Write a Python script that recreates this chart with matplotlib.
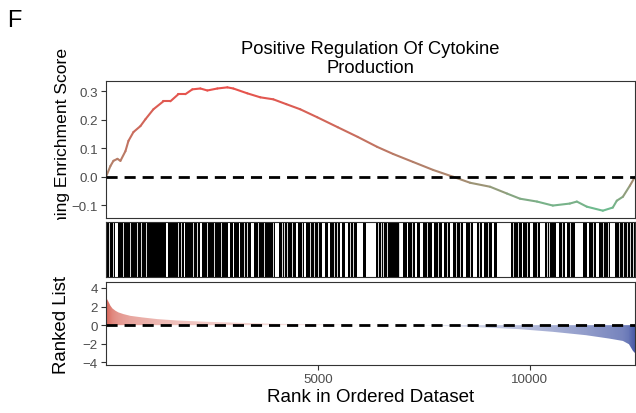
import numpy as np
import matplotlib
matplotlib.use("Agg")
import matplotlib.pyplot as plt
from matplotlib.collections import LineCollection
from matplotlib.colors import LinearSegmentedColormap, TwoSlopeNorm
from matplotlib.transforms import Bbox, TransformedBbox

plt.rcParams['font.family'] = ['Liberation Sans', 'DejaVu Sans']

title = "Positive Regulation Of Cytokine\nProduction"
n_genes = 12490

# running enrichment score
es_rank = [1, 106, 177, 271, 342, 460, 531, 649, 814, 932, 1120, 1356, 1521,
           1710, 1875, 2040, 2229, 2394, 2630, 2866, 3007, 3337, 3644, 3950,
           4257, 4587, 4988, 5472, 5944, 6403, 6781, 7252, 7724, 8196, 8597,
           9069, 9470, 9776, 10177, 10550, 10951, 11117, 11353, 11730, 11966,
           12060, 12205, 12370, 12490]
es_value = [0.0, 0.038, 0.056, 0.063, 0.056, 0.09, 0.126, 0.157, 0.178, 0.202,
            0.237, 0.265, 0.265, 0.29, 0.29, 0.307, 0.31, 0.303, 0.31, 0.314,
            0.31, 0.293, 0.279, 0.272, 0.255, 0.237, 0.209, 0.174, 0.14, 0.105,
            0.08, 0.052, 0.024, 0.0, -0.021, -0.035, -0.059, -0.077, -0.087,
            -0.101, -0.094, -0.087, -0.105, -0.119, -0.108, -0.084, -0.07,
            -0.031, 0.0]

# ranked list metric
rank_pos = [1, 59, 106, 153, 224, 295, 413, 578, 861, 1215, 1686, 2394, 3172,
            4116, 5766, 7181, 7795, 8573, 9752, 10554, 11332, 11875, 12205,
            12347, 12441, 12490]
rank_val = [3.0, 2.52, 2.09, 1.8, 1.55, 1.37, 1.19, 1.0, 0.83, 0.65, 0.5, 0.36,
            0.25, 0.14, 0.05, 0.0, -0.07, -0.18, -0.43, -0.72, -1.08, -1.44,
            -1.7, -2.05, -2.77, -3.0]

# stretches of the barcode without hits (rank start, rank end)
gap_start = [224, 1427, 1835, 2229, 2873, 3000, 3132, 3425, 3998, 4493, 4682,
             5099, 5231, 5531, 5649, 5925, 6144, 6946, 7104, 7300, 7418, 7693,
             7929, 8125, 8439, 8675, 8873, 9109, 9226, 9816, 10012, 10248,
             10625, 10837, 11073, 11349, 11568, 11899]
gap_end = [278, 1474, 1868, 2276, 2920, 3031, 3172, 3486, 4075, 4533, 4729,
           5160, 5295, 5571, 5703, 6080, 6380, 7009, 7142, 7354, 7481, 7748,
           7984, 8189, 8502, 8755, 8927, 9163, 9557, 9854, 10075, 10366,
           10703, 10892, 11269, 11410, 11646, 12017]
# single missing ranks between hits
gap_single = [66, 170, 406, 561, 736, 830, 955, 1693, 1781, 2057, 2151, 2387,
              2542, 2717, 3250, 3330, 3580, 3722, 3943, 4156, 4210, 4274, 4392,
              4627, 4823, 4901, 4995, 5373, 5453, 5767, 5844, 6434, 6491, 6552,
              6632, 6918, 7222, 7576, 7849, 8061, 8267, 8361, 8597, 8816, 9028,
              9618, 9736, 9934, 10170, 10406, 10467, 10759, 10955, 11505, 11741,
              11858, 12118, 12212, 12292, 12370, 12448]

spine_col = '#333333'
tick_col = '#4d4d4d'

fig = plt.figure(figsize=(6.36, 4.14), dpi=100)
left, width = 106 / 636, 529 / 636
ax1 = fig.add_axes([left, 0.4722, width, 0.3309])
ax2 = fig.add_axes([left, 0.3278, width, 0.1328])
ax3 = fig.add_axes([left, 0.1159, width, 0.1998])

for ax in (ax1, ax2, ax3):
    for s in ax.spines.values():
        s.set_color(spine_col)
        s.set_linewidth(0.8)
    ax.set_xlim(1, n_genes)
    ax.tick_params(colors=spine_col, labelcolor=tick_col, labelsize=9.6,
                   length=3.6, width=0.8, pad=2.2)

# top: running ES coloured by its value
pts = np.column_stack([es_rank, es_value])
segs = np.stack([pts[:-1], pts[1:]], axis=1)
es_cmap = LinearSegmentedColormap.from_list('es', ['#6cbd90', '#e9514c'])
es_norm = TwoSlopeNorm(vmin=min(es_value), vcenter=0, vmax=max(es_value))
mid = (np.array(es_value[:-1]) + np.array(es_value[1:])) / 2
lc = LineCollection(segs, colors=es_cmap(es_norm(mid)), linewidths=1.5,
                    capstyle='round', joinstyle='round')
ax1.add_collection(lc)
ax1.axhline(0, color='black', lw=2, ls=(0, (4, 2.5)), zorder=3)
ax1.set_ylim(-0.143, 0.338)
ax1.set_yticks([-0.1, 0.0, 0.1, 0.2, 0.3])
ax1.set_yticklabels(['\u22120.1', '0.0', '0.1', '0.2', '0.3'])
ax1.set_xticks([])

# middle: hit barcode
ax2.axvspan(1, n_genes, color='black', lw=0)
for s, e in zip(gap_start, gap_end):
    ax2.axvspan(s, e, color='white', lw=0)
for g in gap_single:
    ax2.axvline(g, color='white', lw=0.6)
ax2.set_xticks([])
ax2.set_yticks([])
ax2.set_ylim(0, 1)

# bottom: ranked list with gradient fill
poly = ax3.fill_between(rank_pos, 0, rank_val, facecolor='none', edgecolor='none')
rank_cmap = LinearSegmentedColormap.from_list('rl', ['#4a5ca8', '#ffffff', '#d8665a'])
xs = np.linspace(1, n_genes, 1200)
v = np.interp(xs, rank_pos, rank_val)
frac = 0.5 + 0.5 * np.sign(v) * np.sqrt(np.abs(v) / 3.0)
img = rank_cmap(frac)[None, :, :]
im = ax3.imshow(img, extent=(1, n_genes, min(rank_val), max(rank_val)),
                aspect='auto', origin='lower', interpolation='bilinear')
im.set_clip_path(poly.get_paths()[0], transform=ax3.transData)
ax3.axhline(0, color='black', lw=2, ls=(0, (4, 2.5)), zorder=3)
ax3.set_xlim(1, n_genes)
ax3.set_ylim(-4.29, 4.61)
ax3.set_yticks([-4, -2, 0, 2, 4])
ax3.set_yticklabels(['\u22124', '\u22122', '0', '2', '4'])
ax3.set_xticks([5000, 10000])
ax3.set_xlabel('Rank in Ordered Dataset', fontsize=13.5, labelpad=2)

# axis titles
es_lab = fig.text(63 / 636, 1 - 152 / 414, 'Running Enrichment Score', rotation=90,
                  ha='center', va='center', fontsize=12.6)
es_lab.set_clip_box(TransformedBbox(Bbox([[0, 1 - 221 / 414], [1, 1]]), fig.transFigure))
es_lab.set_clip_on(True)
fig.text(62 / 636, 1 - 324.7 / 414, 'Ranked List', rotation=90,
         ha='center', va='center', fontsize=13.4)

ax1.set_title(title, fontsize=13.2, pad=6)
fig.text(7 / 636, 1 - 27 / 414, 'F', fontsize=17, va='baseline', ha='left')

fig.savefig('out.png', dpi=100)
